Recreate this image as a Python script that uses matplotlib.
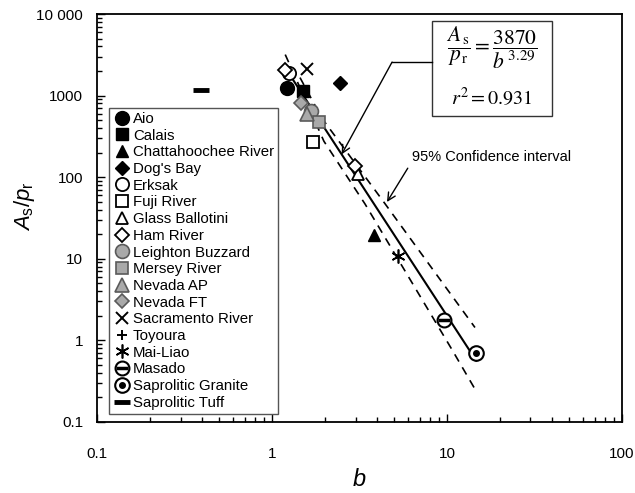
import matplotlib

matplotlib.use("Agg")
import matplotlib.pyplot as plt
from matplotlib.lines import Line2D
from matplotlib.patches import Rectangle
from matplotlib.ticker import LogLocator, NullFormatter

plt.rcParams["font.family"] = ["Liberation Sans", "DejaVu Sans"]
plt.rcParams["mathtext.fontset"] = "custom"
plt.rcParams["mathtext.rm"] = "Liberation Sans"
plt.rcParams["mathtext.it"] = "Liberation Sans:italic"

# Soil data (b, As/pr)
SOILS = [
    "Aio", "Calais", "Chattahoochee River", "Dog's Bay", "Erksak", "Fuji River",
    "Glass Ballotini", "Ham River", "Leighton Buzzard", "Mersey River",
    "Nevada AP", "Nevada FT", "Sacramento River", "Toyoura", "Mai-Liao",
    "Masado", "Saprolitic Granite", "Saprolitic Tuff",
]
B_VALUES = [
    [1.22], [1.50], [3.83], [2.45], [1.25], [1.71],
    [3.12], [1.19, 2.98], [1.67], [1.86],
    [1.585], [1.46], [1.585], [1.50], [5.25],
    [9.6], [14.6], [0.393],
]
RATIO_VALUES = [
    [1230], [1130], [19.7], [1410], [1870], [269],
    [110], [2040, 137], [643], [472],
    [591], [805], [2100], [1130], [10.9],
    [1.75], [0.69], [1160],
]

# fitted power law As/pr = 3870 / b^3.29, end points
FIT_B = [1.21, 14.7]
FIT_R = [2070, 0.56]

# 95% confidence bands
LOWER_B = [1.19, 1.98, 3.40, 10.7, 14.8]
LOWER_R = [3180, 275, 46.8, 0.76, 0.23]
UPPER_B = [1.445, 1.93, 4.31, 14.45]
UPPER_R = [1660, 525, 50.9, 1.43]

GREY = "#a9a9a9"
GREY_EDGE = "#5a5a5a"
STYLES = {
    "Aio": dict(marker="o", ms=10, mfc="black", mec="black"),
    "Calais": dict(marker="s", ms=8, mfc="black", mec="black"),
    "Chattahoochee River": dict(marker="^", ms=9, mfc="black", mec="black"),
    "Dog's Bay": dict(marker="D", ms=7.5, mfc="black", mec="black"),
    "Erksak": dict(marker="o", ms=9.5, mfc="white", mec="black", mew=1.3),
    "Fuji River": dict(marker="s", ms=8.5, mfc="white", mec="black", mew=1.3),
    "Glass Ballotini": dict(marker="^", ms=9, mfc="white", mec="black", mew=1.3),
    "Ham River": dict(marker="D", ms=7.5, mfc="white", mec="black", mew=1.3),
    "Leighton Buzzard": dict(marker="o", ms=10, mfc=GREY, mec=GREY_EDGE, mew=1.2),
    "Mersey River": dict(marker="s", ms=9, mfc=GREY, mec=GREY_EDGE, mew=1.2),
    "Nevada AP": dict(marker="^", ms=10, mfc=GREY, mec=GREY_EDGE, mew=1.2),
    "Nevada FT": dict(marker="D", ms=7.5, mfc=GREY, mec=GREY_EDGE, mew=1.2),
    "Sacramento River": dict(marker="x", ms=9, mfc="none", mec="black", mew=1.4),
    "Toyoura": dict(marker="+", ms=7, mfc="none", mec="black", mew=1.4),
    "Mai-Liao": dict(marker=(6, 2, 0), ms=10, mfc="none", mec="black", mew=1.2),
    "Masado": dict(marker="o", ms=10, mfc="white", mec="black", mew=1.5),
    "Saprolitic Granite": dict(marker="o", ms=10.5, mfc="white", mec="black", mew=1.5),
    "Saprolitic Tuff": dict(marker="_", ms=12, mfc="none", mec="black", mew=3.5),
}
# extra glyph drawn inside some circles
INNER = {
    "Masado": dict(marker="_", ms=8, mec="black", mew=2.5),
    "Saprolitic Granite": dict(marker="o", ms=4, mfc="black", mec="black"),
}

fig = plt.figure(figsize=(6.35, 4.93), dpi=100)
ax = fig.add_axes([0.1528, 0.1446, 0.8267, 0.8270])

ax.plot(FIT_B, FIT_R, color="black", lw=1.5, zorder=2)
ax.plot(LOWER_B, LOWER_R, color="black", lw=1.2, ls=(0, (5, 4)), zorder=2)
ax.plot(UPPER_B, UPPER_R, color="black", lw=1.2, ls=(0, (5, 4)), zorder=2)

handles = []
for name, b, r in zip(SOILS, B_VALUES, RATIO_VALUES):
    st = STYLES[name]
    ax.plot(b, r, ls="none", zorder=3, **st)
    h = Line2D([], [], ls="none", **st)
    if name in INNER:
        ax.plot(b, r, ls="none", zorder=4, **INNER[name])
        h = (h, Line2D([], [], ls="none", **INNER[name]))
    handles.append(h)

ax.set_xscale("log")
ax.set_yscale("log")
ax.set_xlim(0.1, 100)
ax.set_ylim(0.1, 10000)
ax.set_xticks([0.1, 1, 10, 100], ["0.1", "1", "10", "100"])
ax.set_yticks([0.1, 1, 10, 100, 1000, 10000],
              ["0.1", "1", "10", "100", "1000", "10 000"])
ax.xaxis.set_minor_locator(LogLocator(base=10, subs=range(2, 10)))
ax.yaxis.set_minor_locator(LogLocator(base=10, subs=range(2, 10)))
ax.xaxis.set_minor_formatter(NullFormatter())
ax.yaxis.set_minor_formatter(NullFormatter())
ax.tick_params(which="both", direction="in", top=False, right=False,
               labelsize=11, width=1)
ax.tick_params(which="major", length=6)
ax.tick_params(which="minor", length=3.5)
ax.tick_params(axis="x", which="major", pad=18)
ax.tick_params(axis="y", which="major", pad=10)
for sp in ax.spines.values():
    sp.set_linewidth(1.3)

ax.set_xlabel("$b$", fontsize=17, labelpad=6)
ax.set_ylabel(r"$A_\mathrm{s}/p_\mathrm{r}$", fontsize=16)
ax.yaxis.set_label_coords(-0.115, 0.53)

leg = ax.legend(handles, SOILS, loc="upper left", bbox_to_anchor=(0.023, 0.769),
                borderaxespad=0, fontsize=10.8, frameon=True, fancybox=False,
                framealpha=1, edgecolor="#555555", handlelength=1.2,
                handletextpad=0.15, labelspacing=0.18, borderpad=0.25)
leg.get_frame().set_linewidth(1.0)

# equation box
ax.add_patch(Rectangle((0.638, 0.750), 0.229, 0.233, transform=ax.transAxes,
                       fill=False, edgecolor="#333333", lw=1.0, zorder=5))
ax.text(0.752, 0.918,
        r"$\dfrac{A_{\,\mathrm{s}}}{p_{\,\mathrm{r}}} = \dfrac{3870}{b^{\,3.29}}$",
        transform=ax.transAxes, ha="center", va="center", fontsize=15.5,
        math_fontfamily="stix")
ax.text(0.752, 0.794, r"$r^{2} = 0.931$", transform=ax.transAxes,
        ha="center", va="center", fontsize=14.5, math_fontfamily="stix")

# connector from the box to the fit line
ax.plot([0.638, 0.562], [0.882, 0.882], transform=ax.transAxes,
        color="black", lw=1.0, zorder=5)
ax.annotate("", xy=(2.5, 3870 / 2.5 ** 3.29), xycoords="data",
            xytext=(0.562, 0.882), textcoords="axes fraction",
            arrowprops=dict(arrowstyle="->", color="black", lw=1.0,
                            shrinkA=0, shrinkB=0, mutation_scale=14))

ax.annotate("95% Confidence interval", xy=(4.54, 49.5), xycoords="data",
            xytext=(0.600, 0.649), textcoords="axes fraction",
            fontsize=10.5, ha="left", va="center",
            arrowprops=dict(arrowstyle="->", color="black", lw=1.0,
                            shrinkA=2, shrinkB=0, mutation_scale=14,
                            relpos=(0.0, 0.2)))

fig.savefig("out.png", dpi=100)
